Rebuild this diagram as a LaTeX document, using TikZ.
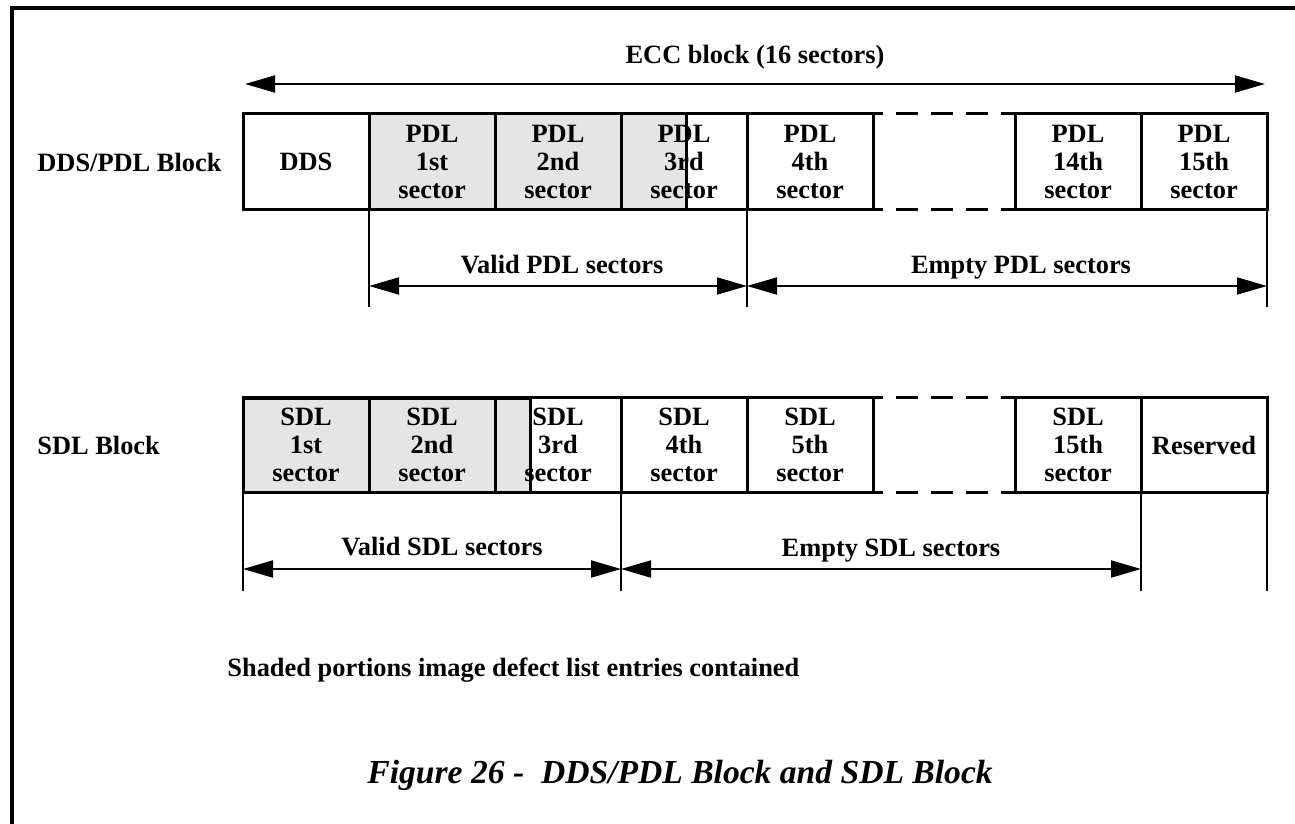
\documentclass[tikz,border=0pt]{standalone}
\usepackage{fontspec}
\setmainfont{Liberation Serif}
\usepackage{tikz}
\usetikzlibrary{arrows.meta}

\newcommand{\cellfont}{\bfseries\fontsize{13.2}{14}\selectfont}
\newcommand{\capfont}{\bfseries\itshape\fontsize{16.8}{19}\selectfont}

\begin{document}
\begin{tikzpicture}[x=0.5pt, y=-0.5pt, line join=miter,
    >={Triangle[length=15pt, width=8.5pt]},
    cell/.style={draw, line width=1.5pt, minimum width=63pt, minimum height=47.5pt,
        inner sep=0pt, outer sep=0pt, align=center, font=\cellfont},
    lbl/.style={inner sep=0pt, font=\cellfont},
    greyfill/.style={fill=black!10},
    ext/.style={line width=1pt},
    dim/.style={<->, line width=1pt},
    gapline/.style={line width=1.5pt, dash pattern=on 11pt off 6.5pt, dash phase=6pt}]

    \useasboundingbox (0,0) rectangle (1295,824);

    % --- Page frame (cut off at right and bottom) ---
    \draw[line width=2pt] (12,824) -- (12,8) -- (1295,8);

    % --- ECC block span ---
    \coordinate (eccl) at (245,84);
    \coordinate (eccr) at (1265,84);
    \draw[dim] (eccl) -- (eccr);
    \node[lbl, anchor=base] (ecc) at (755,64) {ECC block (16 sectors)};

    % --- DDS/PDL block ---
    \node[lbl, anchor=base west] (pdlname) at (37,171) {DDS/PDL Block};
    \fill[greyfill] (369,114) rectangle (686,209);
    \node[cell] (dds) at (306,161.5) {DDS};
    \node[cell] (p1) at (432,161.5) {PDL\\1st\\sector};
    \node[cell] (p2) at (558,161.5) {PDL\\2nd\\sector};
    \node[cell] (p3) at (684,161.5) {PDL\\3rd\\sector};
    \node[cell] (p4) at (810,161.5) {PDL\\4th\\sector};
    \node[cell] (p14) at (1078,161.5) {PDL\\14th\\sector};
    \node[cell] (p15) at (1204,161.5) {PDL\\15th\\sector};
    \draw[line width=1.5pt] (369,114) rectangle (686,209);
    % sectors left out
    \draw[gapline] (p4.north east) -- (p14.north west);
    \draw[gapline] (p4.south east) -- (p14.south west);

    % valid / empty PDL spans
    \draw[ext] (p1.south west) -- ++(0,98);
    \draw[ext] (p4.south west) -- ++(0,98);
    \draw[ext] (p15.south east) -- ++(0,98);
    \coordinate (vpa) at (369,286);
    \coordinate (vpb) at (747,286);
    \coordinate (epb) at (1267,286);
    \draw[dim] (vpa) -- (vpb);
    \draw[dim] (vpb) -- (epb);
    \node[lbl, anchor=base] (validpdl) at (562,273) {Valid PDL sectors};
    \node[lbl, anchor=base] (emptypdl) at (1021,273) {Empty PDL sectors};

    % --- SDL block ---
    \node[lbl, anchor=base west] (sdlname) at (37,454) {SDL Block};
    \fill[greyfill] (243,398) rectangle (530,492);
    \node[cell] (s1) at (306,445) {SDL\\1st\\sector};
    \node[cell] (s2) at (432,445) {SDL\\2nd\\sector};
    \node[cell] (s3) at (558,445) {SDL\\3rd\\sector};
    \node[cell] (s4) at (684,445) {SDL\\4th\\sector};
    \node[cell] (s5) at (810,445) {SDL\\5th\\sector};
    \node[cell] (s15) at (1078,445) {SDL\\15th\\sector};
    \node[cell] (res) at (1204,445) {Reserved};
    \draw[line width=1.5pt] (243,398) rectangle (530,492);
    % sectors left out
    \draw[gapline] (s5.north east) -- (s15.north west);
    \draw[gapline] (s5.south east) -- (s15.south west);

    % valid / empty SDL spans
    \draw[ext] (s1.south west) -- ++(0,98);
    \draw[ext] (s4.south west) -- ++(0,98);
    \draw[ext] (res.south west) -- ++(0,98);
    \draw[ext] (res.south east) -- ++(0,98);
    \coordinate (vsa) at (243,569);
    \coordinate (vsb) at (621,569);
    \coordinate (esb) at (1141,569);
    \draw[dim] (vsa) -- (vsb);
    \draw[dim] (vsb) -- (esb);
    \node[lbl, anchor=base] (validsdl) at (442,555) {Valid SDL sectors};
    \node[lbl, anchor=base] (emptysdl) at (891,556) {Empty SDL sectors};

    % --- Note and caption ---
    \node[lbl, anchor=base west] (note) at (227,676)
        {Shaded portions image defect list entries contained};
    \node[lbl, font=\capfont, anchor=base west] (caption) at (367,783)
        {Figure 26 -\ \ DDS/PDL Block and SDL Block};

\end{tikzpicture}
\end{document}
